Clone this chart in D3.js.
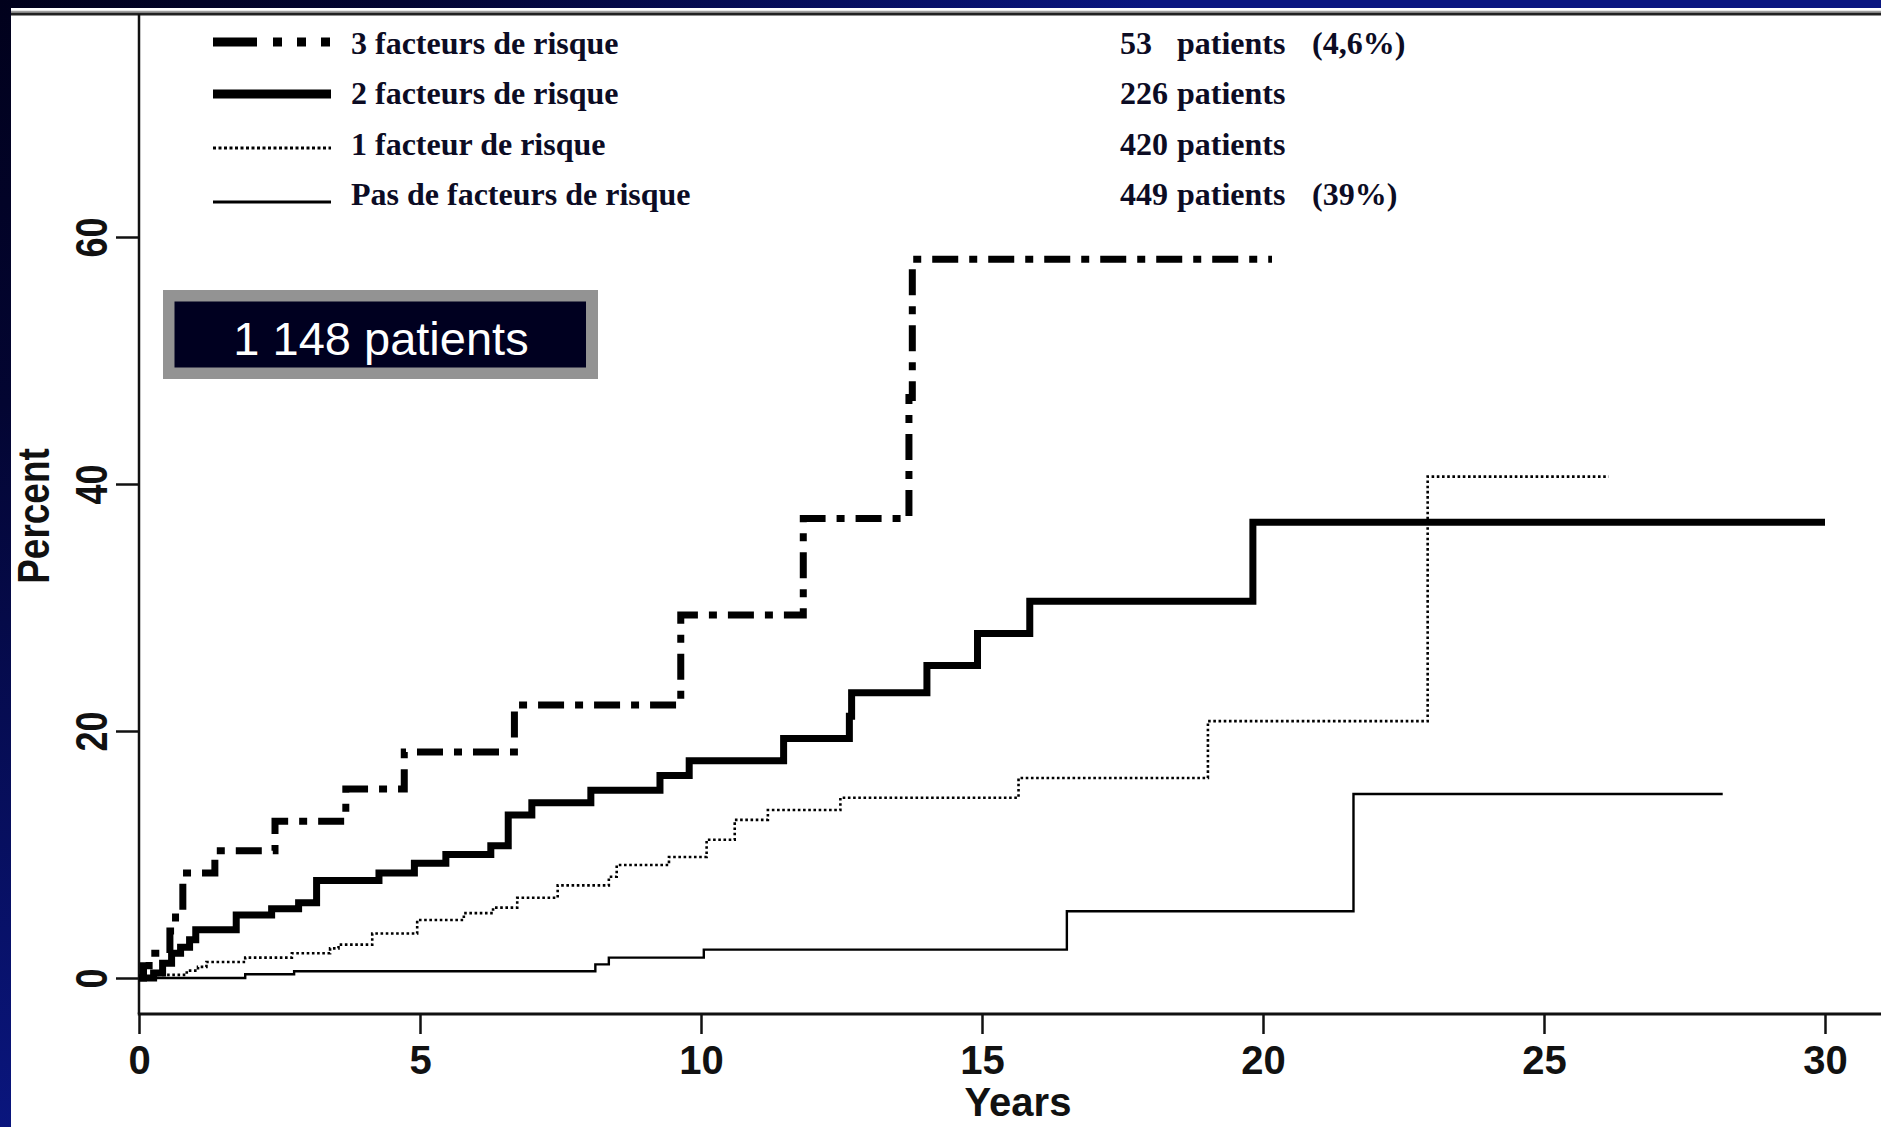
<!DOCTYPE html>
<html>
<head>
<meta charset="utf-8">
<script src="https://cdn.jsdelivr.net/npm/d3@7"></script>
<style>
  html, body { margin: 0; padding: 0; background: #020222; }
  svg { display: block; }
</style>
</head>
<body>
<svg id="chart" width="1881" height="1127"></svg>
<script>
// Cumulative incidence (percent) by number of risk factors, step times in years
const seriesNames = ["3 facteurs de risque", "2 facteurs de risque", "1 facteur de risque", "Pas de facteurs de risque"];
const patientCounts = [53, 226, 420, 449];
const patientShares = ["(4,6%)", "", "", "(39%)"];
const totalLabel = "1 148 patients";

const times3 = [0, 0.08, 0.18, 0.55, 0.65, 0.78, 1.35, 2.42, 3.68, 4.72, 6.68, 9.64, 11.82, 13.70, 13.76];
const values3 = [0, 1.0, 2.0, 3.8, 5.5, 8.5, 10.3, 12.7, 15.3, 18.3, 22.1, 29.4, 37.2, 47.0, 58.2];
const end3 = 20.16;

const times2 = [0, 0.26, 0.42, 0.58, 0.74, 0.9, 1.01, 1.73, 2.36, 2.84, 3.16, 4.27, 4.9, 5.46, 6.26, 6.57, 6.99, 8.04, 9.27, 9.79, 11.47, 12.64, 12.68, 14.02, 14.92, 15.85, 19.82];
const values2 = [0, 0.4, 1.2, 2.0, 2.5, 3.1, 3.9, 5.1, 5.6, 6.1, 7.9, 8.5, 9.3, 10.0, 10.7, 13.2, 14.2, 15.2, 16.4, 17.6, 19.4, 21.2, 23.1, 25.3, 27.9, 30.5, 36.9];
const end2 = 30.0;

const times1 = [0, 0.3, 0.85, 1.05, 1.2, 1.89, 2.72, 3.4, 3.55, 4.15, 4.95, 5.78, 6.3, 6.73, 7.45, 8.36, 8.5, 9.43, 10.1, 10.6, 11.19, 12.48, 15.65, 19.02, 22.93];
const values1 = [0, 0.25, 0.6, 0.9, 1.3, 1.65, 2.0, 2.4, 2.7, 3.6, 4.7, 5.25, 5.7, 6.5, 7.5, 8.2, 9.15, 9.8, 11.2, 12.8, 13.6, 14.6, 16.2, 20.8, 40.6];
const end1 = 26.15;

const times0 = [0, 1.89, 2.76, 8.12, 8.36, 10.05, 16.51, 21.61];
const values0 = [0, 0.3, 0.55, 1.1, 1.65, 2.3, 5.4, 14.9];
const end0 = 28.18;

const xTicks = [0, 5, 10, 15, 20, 25, 30];
const yTicks = [0, 20, 40, 60];

const W = 1881, H = 1127;
const svg = d3.select("#chart");

// slide background
const defs = svg.append("defs");
const grad = defs.append("radialGradient").attr("id", "bg")
  .attr("gradientUnits", "userSpaceOnUse")
  .attr("cx", 0).attr("cy", 0).attr("r", 1150);
grad.append("stop").attr("offset", "0%").attr("stop-color", "#01011c");
grad.append("stop").attr("offset", "35%").attr("stop-color", "#030532");
grad.append("stop").attr("offset", "100%").attr("stop-color", "#0a1680");
svg.append("rect").attr("width", W).attr("height", H).attr("fill", "url(#bg)");
svg.append("rect").attr("x", 11).attr("y", 8).attr("width", W - 11).attr("height", H - 8).attr("fill", "#ffffff");

const x = d3.scaleLinear().domain([0, 30]).range([139, 1825]);
const y = d3.scaleLinear().domain([0, 60]).range([978, 237]);
const axisY = 1014, topY = 14;

const ink = "#111111";

// frame
svg.append("line").attr("x1", 11).attr("x2", W).attr("y1", 11.5).attr("y2", 11.5)
  .attr("stroke", "#a0a0a0").attr("stroke-width", 1.5);
svg.append("line").attr("x1", 11).attr("x2", W).attr("y1", 14).attr("y2", 14)
  .attr("stroke", "#222").attr("stroke-width", 3);
svg.append("line").attr("x1", x(0)).attr("x2", x(0)).attr("y1", topY).attr("y2", axisY)
  .attr("stroke", ink).attr("stroke-width", 2.5);
svg.append("line").attr("x1", x(0) - 1.25).attr("x2", W).attr("y1", axisY).attr("y2", axisY)
  .attr("stroke", ink).attr("stroke-width", 3);

// x axis
const gx = svg.append("g").attr("transform", `translate(0,${axisY})`)
  .call(d3.axisBottom(x).tickValues(xTicks).tickSize(20).tickFormat(d3.format("d")));
gx.select(".domain").remove();
gx.selectAll(".tick line").attr("stroke", ink).attr("stroke-width", 2.5);
gx.selectAll(".tick text")
  .attr("y", 60).attr("dy", null)
  .attr("fill", ink)
  .style("font-family", "'Liberation Sans', Arial, sans-serif")
  .style("font-weight", "bold").style("font-size", "40px");

svg.append("text").attr("x", 1018).attr("y", 1116).attr("text-anchor", "middle")
  .attr("fill", ink)
  .style("font-family", "'Liberation Sans', Arial, sans-serif")
  .style("font-weight", "bold").style("font-size", "40px")
  .text("Years");

// y axis
const gy = svg.append("g").attr("transform", `translate(${x(0)},0)`)
  .call(d3.axisLeft(y).tickValues(yTicks).tickSize(23).tickFormat(d3.format("d")));
gy.select(".domain").remove();
gy.selectAll(".tick line").attr("stroke", ink).attr("stroke-width", 2.5);
gy.selectAll(".tick text")
  .attr("x", null).attr("dy", null)
  .attr("text-anchor", "middle")
  .attr("transform", "translate(-32,0) rotate(-90) scale(0.82,1)")
  .attr("fill", ink)
  .style("font-family", "'Liberation Sans', Arial, sans-serif")
  .style("font-weight", "bold").style("font-size", "44px");

svg.append("text")
  .attr("transform", `translate(49,${516}) rotate(-90) scale(0.84,1)`)
  .attr("text-anchor", "middle")
  .attr("fill", ink)
  .style("font-family", "'Liberation Sans', Arial, sans-serif")
  .style("font-weight", "bold").style("font-size", "44px")
  .text("Percent");

// curves
const stepLine = d3.line().x(d => x(d[0])).y(d => y(d[1])).curve(d3.curveStepAfter);
function stepPoints(ts, vs, end) {
  const pts = ts.map((t, i) => [t, vs[i]]);
  pts.push([end, vs[vs.length - 1]]);
  return pts;
}

const curveStyles = [
  { w: 7, dash: "26,11,8,11" },
  { w: 7, dash: null },
  { w: 2.6, dash: "2.6,2.6" },
  { w: 2.4, dash: null }
];
const curves = [
  stepPoints(times3, values3, end3),
  stepPoints(times2, values2, end2),
  stepPoints(times1, values1, end1),
  stepPoints(times0, values0, end0)
];

const gc = svg.append("g");
[3, 2, 1, 0].forEach(i => {
  gc.append("path")
    .attr("d", stepLine(curves[i]))
    .attr("fill", "none")
    .attr("stroke", "#000")
    .attr("stroke-width", curveStyles[i].w)
    .attr("stroke-dasharray", curveStyles[i].dash)
    .attr("stroke-linejoin", "miter");
});

// legend
const legendLineY = [42, 94, 148, 202];
const legendTextY = [54, 104, 155, 205];
const legendStyles = [
  { w: 9, dash: "44,16,9,15,9,15,9,15" },
  { w: 9, dash: null },
  { w: 3, dash: "3,2.5" },
  { w: 3, dash: null }
];
const serif = "'Liberation Serif', 'Times New Roman', serif";
const textInk = "#0c0c24";
seriesNames.forEach((name, i) => {
  svg.append("line").attr("x1", 213).attr("x2", 331)
    .attr("y1", legendLineY[i]).attr("y2", legendLineY[i])
    .attr("stroke", "#000").attr("stroke-width", legendStyles[i].w)
    .attr("stroke-dasharray", legendStyles[i].dash);
  svg.append("text").attr("x", 351).attr("y", legendTextY[i])
    .attr("fill", textInk)
    .style("font-family", serif).style("font-weight", "bold").style("font-size", "32px")
    .text(name);
  const t = svg.append("text").attr("y", legendTextY[i]).attr("fill", textInk)
    .style("font-family", serif).style("font-weight", "bold").style("font-size", "32px");
  t.append("tspan").attr("x", 1120).text(patientCounts[i]);
  t.append("tspan").attr("x", 1177).text("patients");
  if (patientShares[i]) t.append("tspan").attr("x", 1312).text(patientShares[i]);
});

// total patients box
svg.append("rect").attr("x", 163).attr("y", 290).attr("width", 435).attr("height", 89).attr("fill", "#939393");
svg.append("rect").attr("x", 174.5).attr("y", 301.5).attr("width", 411.5).attr("height", 66).attr("fill", "#000020");
svg.append("text").attr("x", 381).attr("y", 355).attr("text-anchor", "middle")
  .attr("fill", "#ffffff")
  .style("font-family", "'Liberation Sans', Arial, sans-serif")
  .style("font-size", "47px")
  .text(totalLabel);
</script>
</body>
</html>
